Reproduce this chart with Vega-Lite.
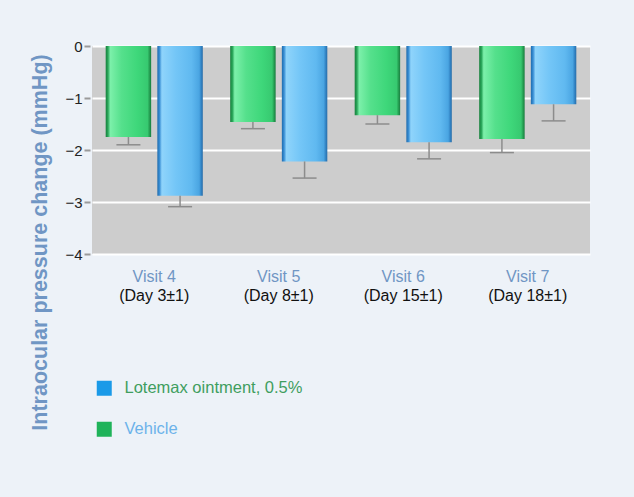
{
  "$schema": "https://vega.github.io/schema/vega-lite/v6.json",
  "width": 498,
  "height": 208,
  "autosize": {"type": "none"},
  "padding": {"left": 92, "top": 46, "right": 44, "bottom": 243},
  "background": "#edf2f8",
  "config": {"font": "Liberation Sans", "view": {"stroke": null, "fill": "#cdcdcd"}},
  "data": {
    "values": [
      {"visit": "Visit 4", "day": "(Day 3±1)", "series": "Vehicle", "mean": -1.75, "err": -1.9},
      {"visit": "Visit 4", "day": "(Day 3±1)", "series": "Lotemax ointment, 0.5%", "mean": -2.88, "err": -3.09},
      {"visit": "Visit 5", "day": "(Day 8±1)", "series": "Vehicle", "mean": -1.46, "err": -1.59},
      {"visit": "Visit 5", "day": "(Day 8±1)", "series": "Lotemax ointment, 0.5%", "mean": -2.22, "err": -2.54},
      {"visit": "Visit 6", "day": "(Day 15±1)", "series": "Vehicle", "mean": -1.33, "err": -1.5},
      {"visit": "Visit 6", "day": "(Day 15±1)", "series": "Lotemax ointment, 0.5%", "mean": -1.85, "err": -2.17},
      {"visit": "Visit 7", "day": "(Day 18±1)", "series": "Vehicle", "mean": -1.79, "err": -2.05},
      {"visit": "Visit 7", "day": "(Day 18±1)", "series": "Lotemax ointment, 0.5%", "mean": -1.12, "err": -1.44}
    ]
  },
  "encoding": {
    "x": {
      "field": "visit",
      "type": "nominal",
      "sort": ["Visit 4", "Visit 5", "Visit 6", "Visit 7"],
      "scale": {"paddingInner": 0.22, "paddingOuter": 0.11},
      "axis": {
        "title": null,
        "domain": false,
        "ticks": false,
        "labelAngle": 0,
        "labelFontSize": 16,
        "labelColor": "#7096c4",
        "labelBaseline": "middle",
        "labelPadding": 22
      }
    },
    "xOffset": {"field": "series", "type": "nominal", "scale": {"domain": ["Vehicle", "Lotemax ointment, 0.5%"], "paddingInner": 0.12}},
    "y": {
      "field": "mean",
      "type": "quantitative",
      "scale": {"domain": [-4, 0], "nice": false},
      "axis": {
        "title": "Intraocular pressure change (mmHg)",
        "titleFontSize": 21.5,
        "titleFontWeight": "bold",
        "titleColor": "#7096c4",
        "titleX": -44,
        "titleY": 196,
        "titleBaseline": "alphabetic",
        "titleAlign": "center",
        "values": [0, -1, -2, -3, -4],
        "labelFontSize": 15,
        "labelColor": "#222222",
        "labelPadding": 2,
        "tickSize": 6,
        "tickColor": "#9a9a9a",
        "tickWidth": 2,
        "domain": false,
        "offset": 2,
        "grid": true,
        "gridColor": "#ffffff",
        "gridWidth": 2,
        "gridOpacity": 1
      }
    }
  },
  "layer": [
    {
      "transform": [{"filter": "datum.series === 'Vehicle'"}],
      "mark": {
        "type": "bar",
        "color": {
          "gradient": "linear", "x1": 0, "x2": 1, "y1": 0, "y2": 0,
          "stops": [
            {"offset": 0, "color": "#16803c"},
            {"offset": 0.05, "color": "#2aa65a"},
            {"offset": 0.1, "color": "#7cf0aa"},
            {"offset": 0.35, "color": "#55e08c"},
            {"offset": 0.7, "color": "#3ed77a"},
            {"offset": 0.92, "color": "#37c970"},
            {"offset": 0.97, "color": "#22984e"},
            {"offset": 1, "color": "#1a7c40"}
          ]
        }
      }
    },
    {
      "transform": [{"filter": "datum.series !== 'Vehicle'"}],
      "mark": {
        "type": "bar",
        "color": {
          "gradient": "linear", "x1": 0, "x2": 1, "y1": 0, "y2": 0,
          "stops": [
            {"offset": 0, "color": "#1e6cae"},
            {"offset": 0.05, "color": "#3a8fd5"},
            {"offset": 0.1, "color": "#8fd4fb"},
            {"offset": 0.4, "color": "#74c6f7"},
            {"offset": 0.75, "color": "#60b9f0"},
            {"offset": 0.92, "color": "#4aa5e2"},
            {"offset": 0.97, "color": "#2f7fc0"},
            {"offset": 1, "color": "#2a6ea8"}
          ]
        }
      }
    },
    {
      "mark": {"type": "rule", "color": "#8c8c8c", "strokeWidth": 1.5},
      "encoding": {
        "y2": {"field": "err"}
      }
    },
    {
      "mark": {"type": "tick", "color": "#8c8c8c", "size": 24, "thickness": 1.5, "opacity": 1},
      "encoding": {
        "y": {"field": "err", "type": "quantitative"}
      }
    },
    {
      "mark": {"type": "point", "shape": "square", "filled": true, "opacity": 0},
      "encoding": {
        "color": {
          "field": "series",
          "type": "nominal",
          "scale": {"domain": ["Lotemax ointment, 0.5%", "Vehicle"], "range": ["#1a9ae8", "#1fb35a"]},
          "legend": {
            "title": null,
            "orient": "none",
            "legendX": 4,
            "legendY": 334,
            "padding": 0,
            "symbolType": "square",
            "symbolSize": 225,
            "symbolOpacity": 1,
            "symbolStrokeWidth": 0,
            "labelFontSize": 16.5,
            "labelLimit": 400,
            "labelOffset": 12,
            "rowPadding": 24,
            "encode": {
              "labels": {"update": {"fill": {"signal": "datum.label === 'Vehicle' ? '#6cb2ea' : '#3f9e5f'"}}}
            }
          }
        }
      }
    },
    {
      "transform": [{"filter": "datum.series === 'Vehicle'"}],
      "mark": {"type": "text", "fontSize": 16, "color": "#111111", "baseline": "middle", "dy": 42},
      "encoding": {
        "xOffset": null,
        "y": {"datum": -4, "type": "quantitative"},
        "text": {"field": "day"}
      }
    }
  ]
}
